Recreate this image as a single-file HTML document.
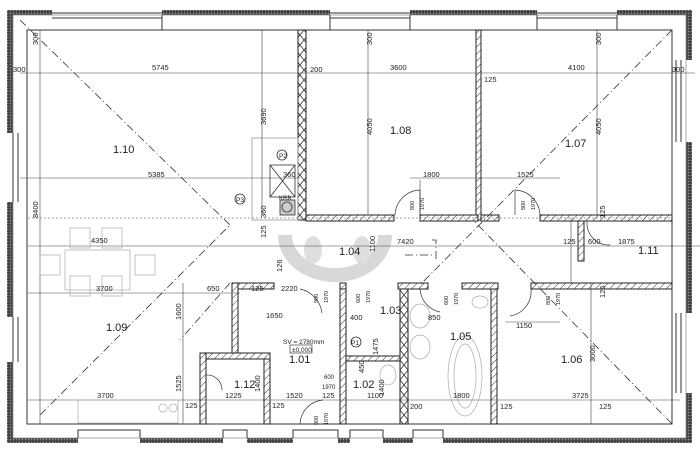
<!DOCTYPE html>
<html><head><meta charset="utf-8"><style>
html,body{margin:0;padding:0;background:#fff;}
svg{display:block;font-family:"Liberation Sans",sans-serif;}
</style></head><body>
<svg width="700" height="453" viewBox="0 0 700 453" xmlns="http://www.w3.org/2000/svg">
<defs>
<pattern id="h" width="5" height="5" patternUnits="userSpaceOnUse" patternTransform="rotate(45)"><rect width="5" height="5" fill="#fff"/><line x1="0" y1="0" x2="0" y2="5" stroke="#333" stroke-width="1"/></pattern>
<pattern id="d" width="3" height="3" patternUnits="userSpaceOnUse"><rect width="3" height="3" fill="#444"/><circle cx="1.5" cy="1.5" r="0.7" fill="#999"/></pattern>
<pattern id="x" width="8" height="10" patternUnits="userSpaceOnUse"><rect width="8" height="10" fill="#fff"/><path d="M0 0L8 10M8 0L0 10" stroke="#333" stroke-width="0.8"/></pattern>
</defs>
<rect width="700" height="453" fill="#fff"/>
<!-- watermark -->
<path d="M285 235 A50 40 0 0 0 385 235" fill="none" stroke="#d8d8d8" stroke-width="14"/>
<ellipse cx="313" cy="250" rx="9" ry="14" fill="#dedede"/>
<ellipse cx="362" cy="250" rx="9" ry="14" fill="#dedede"/>
<!-- outer walls bands -->
<g fill="url(#d)">
<rect x="10" y="10" width="42" height="5"/><rect x="162" y="10" width="168" height="5"/><rect x="410" y="10" width="127" height="5"/><rect x="617" y="10" width="75" height="5"/>
<rect x="7" y="10" width="6" height="123"/><rect x="7" y="202" width="6" height="115"/><rect x="7" y="362" width="6" height="81"/>
<rect x="686" y="10" width="6" height="50"/><rect x="686" y="142" width="6" height="171"/><rect x="686" y="393" width="6" height="50"/>
<rect x="10" y="438" width="68" height="5"/><rect x="140" y="438" width="83" height="5"/><rect x="247" y="438" width="46" height="5"/><rect x="338" y="438" width="12" height="5"/><rect x="383" y="438" width="30" height="5"/><rect x="443" y="438" width="249" height="5"/>
</g>
<g fill="none" stroke="#333" stroke-width="1">
<rect x="27" y="30" width="645" height="394"/>
<rect x="13" y="15" width="673" height="423" stroke="#888" stroke-width="0.7"/>
<!-- window frames -->
<path d="M52 13H162M52 18H162M330 13H410M330 18H410M537 13H617M537 18H617"/>
<path d="M13 133V202M18 133V202M13 317V362M18 317V362M681 60V142M676 60V142M681 313V393M676 313V393"/>
<path d="M78 438V430H140V438M223 438V430H247V438M293 438V430H338V438M350 438V430H383V438M413 438V430H443V438"/>
<path d="M162 15V30H330V15M410 15V30H537V15M617 15V30H672"/>
</g>
<!-- internal walls -->
<g stroke="#222" stroke-width="1">
<rect x="298" y="30" width="8" height="190" fill="url(#x)"/>
<rect x="476" y="30" width="5" height="190" fill="url(#h)"/>
<rect x="306" y="215" width="88" height="6" fill="url(#h)"/>
<rect x="420" y="215" width="58" height="6" fill="url(#h)"/>
<rect x="481" y="215" width="18" height="6" fill="url(#h)"/>
<rect x="540" y="215" width="132" height="6" fill="url(#h)"/>
<rect x="578" y="221" width="6" height="40" fill="url(#h)"/>
<rect x="232" y="283" width="42" height="6" fill="url(#h)"/>
<rect x="340" y="283" width="6" height="6" fill="url(#h)"/>
<rect x="398" y="283" width="30" height="6" fill="url(#h)"/>
<rect x="462" y="283" width="36" height="6" fill="url(#h)"/>
<rect x="531" y="283" width="141" height="6" fill="url(#h)"/>
<rect x="232" y="283" width="6" height="72" fill="url(#h)"/>
<rect x="200" y="353" width="70" height="6" fill="url(#h)"/>
<rect x="200" y="353" width="6" height="71" fill="url(#h)"/>
<rect x="264" y="359" width="6" height="65" fill="url(#h)"/>
<rect x="340" y="289" width="6" height="135" fill="url(#h)"/>
<rect x="400" y="289" width="8" height="135" fill="url(#x)"/>
<rect x="346" y="356" width="54" height="5" fill="url(#h)"/>
<rect x="491" y="289" width="6" height="135" fill="url(#h)"/>
</g>
<!-- chimney -->
<g fill="none" stroke="#333" stroke-width="0.8">
<rect x="270" y="165" width="25" height="32"/><path d="M270 165L295 197M295 165L270 197"/>
<rect x="280" y="200" width="15" height="15" fill="#ccc"/><circle cx="287" cy="207" r="5"/>
<circle cx="282" cy="155" r="5"/><circle cx="240" cy="199" r="5"/>
<rect x="252" y="138" width="46" height="82" stroke="#999"/>
<circle cx="356" cy="342" r="5"/>
</g>
<!-- dimension lines -->
<g stroke="#444" stroke-width="0.6" fill="none">
<path d="M20 73H695M20 178H300M28 246H700M28 293H240M28 400H230M200 400H400M400 400H500M500 400H680M410 178H560"/>
<path d="M262 30V215M368 30V215M597 30V215M40 30V424M183 283V424M591 283V424M420 180V222M571 218V283"/>
<path d="M28 218H672" stroke-dasharray="2 2"/>
<path d="M505 322H560"/>
</g>
<!-- diagonal dash-dot -->
<g stroke="#333" stroke-width="0.8" fill="none" stroke-dasharray="8 3 1 3">
<path d="M20 20L230 225M40 415L230 225"/>
<path d="M672 30L420 285M672 424L475 222"/>
<path d="M230 283L180 340M432 240H436V262M405 255H435"/>
</g>
<!-- doors -->
<g stroke="#333" stroke-width="0.7" fill="none">
<path d="M395 215A26 26 0 0 1 420 190V215"/>
<path d="M540 215A26 26 0 0 0 515 190V215"/>
<path d="M300 289A28 28 0 0 1 322 313"/>
<path d="M420 289A25 25 0 0 0 440 312"/>
<path d="M531 289A25 25 0 0 1 510 316"/>
<path d="M206 375A15 15 0 0 1 222 390"/>
<path d="M300 424A25 25 0 0 1 323 400"/>
<path d="M587 222A22 22 0 0 0 610 245"/>
</g>
<!-- furniture light -->
<g stroke="#aaa" stroke-width="0.7" fill="none">
<rect x="65" y="250" width="65" height="40"/>
<rect x="70" y="228" width="20" height="20"/><rect x="102" y="228" width="20" height="20"/>
<rect x="70" y="276" width="20" height="20"/><rect x="102" y="276" width="20" height="20"/>
<rect x="40" y="255" width="20" height="20"/><rect x="135" y="255" width="20" height="20"/>
<rect x="78" y="400" width="100" height="23"/><circle cx="163" cy="408" r="4"/><circle cx="173" cy="408" r="4"/>
<ellipse cx="420" cy="316" rx="10" ry="12"/><ellipse cx="420" cy="347" rx="10" ry="12"/>
<ellipse cx="465" cy="376" rx="17" ry="40"/><ellipse cx="465" cy="376" rx="11" ry="32"/>
<ellipse cx="480" cy="302" rx="8" ry="6"/><ellipse cx="388" cy="375" rx="8" ry="10"/>
</g>
<!-- labels -->
<g fill="#222" font-size="11">
<text x="113" y="153">1.10</text><text x="390" y="134">1.08</text><text x="565" y="147">1.07</text>
<text x="339" y="255">1.04</text><text x="638" y="254">1.11</text><text x="106" y="331">1.09</text>
<text x="561" y="363">1.06</text><text x="450" y="340">1.05</text><text x="289" y="363">1.01</text>
<text x="380" y="314">1.03</text><text x="353" y="388">1.02</text><text x="234" y="388">1.12</text>
</g>
<g fill="#222" font-size="7.5">
<text x="152" y="70">5745</text><text x="390" y="70">3600</text><text x="568" y="70">4100</text>
<text x="310" y="72">200</text><text x="484" y="82">125</text><text x="13" y="72">300</text><text x="672" y="72">300</text>
<text x="148" y="177">5385</text><text x="423" y="177">1800</text><text x="517" y="177">1525</text>
<text x="91" y="243">4350</text><text x="397" y="244">7420</text><text x="618" y="244">1875</text><text x="563" y="244">125</text><text x="588" y="244">600</text>
<text x="96" y="291">3700</text><text x="97" y="398">3700</text><text x="572" y="398">3725</text>
<text x="516" y="328">1150</text><text x="207" y="291">650</text><text x="251" y="291">125</text><text x="281" y="291">2220</text>
<text x="286" y="398">1520</text><text x="225" y="398">1225</text><text x="367" y="398">1100</text><text x="453" y="398">1800</text>
<text x="410" y="409">200</text><text x="500" y="409">125</text><text x="599" y="409">125</text><text x="185" y="408">125</text><text x="272" y="408">125</text><text x="322" y="398">125</text>
<text x="428" y="320">850</text><text x="350" y="320">400</text><text x="266" y="318">1650</text>
<text x="283" y="344" font-size="6.5">SV = 2780mm</text><rect x="290" y="345" width="22" height="8" fill="none" stroke="#222" stroke-width="0.6"/><text x="292" y="352" font-size="6.5">±0,000</text>
<text x="324" y="379" font-size="6">600</text><text x="322" y="389" font-size="6">1970</text>
<text x="279" y="158" font-size="6.5">P2</text><text x="236" y="202" font-size="6.5">P3</text><text x="351" y="345" font-size="6.5">P1</text><text x="279" y="200" font-size="6">KRB</text><text x="283" y="177">360</text>
</g>
<g fill="#222" font-size="7.5">
<text transform="translate(38,218) rotate(-90)">8400</text>
<text transform="translate(266,125) rotate(-90)">3690</text>
<text transform="translate(372,135) rotate(-90)">4050</text>
<text transform="translate(601,135) rotate(-90)">4050</text>
<text transform="translate(181,320) rotate(-90)">1600</text>
<text transform="translate(181,392) rotate(-90)">1525</text>
<text transform="translate(595,362) rotate(-90)">3000</text>
<text transform="translate(372,45) rotate(-90)">300</text>
<text transform="translate(601,45) rotate(-90)">300</text>
<text transform="translate(38,45) rotate(-90)">300</text>
<text transform="translate(375,252) rotate(-90)">1100</text>
<text transform="translate(266,218) rotate(-90)">360</text>
<text transform="translate(266,238) rotate(-90)">125</text>
<text transform="translate(260,392) rotate(-90)">1400</text>
<text transform="translate(605,218) rotate(-90)">125</text>
<text transform="translate(605,298) rotate(-90)">125</text>
<text transform="translate(282,272) rotate(-90)">126</text>
<text transform="translate(378,355) rotate(-90)">1475</text>
<text transform="translate(364,373) rotate(-90)">450</text>
<text transform="translate(384,396) rotate(-90)">1400</text>
</g>
<g fill="#222" font-size="5.5">
<text transform="translate(414,210) rotate(-90)">800</text><text transform="translate(424,210) rotate(-90)">1970</text>
<text transform="translate(525,210) rotate(-90)">800</text><text transform="translate(535,210) rotate(-90)">1970</text>
<text transform="translate(318,303) rotate(-90)">900</text><text transform="translate(328,303) rotate(-90)">1970</text>
<text transform="translate(448,305) rotate(-90)">600</text><text transform="translate(458,305) rotate(-90)">1970</text>
<text transform="translate(360,303) rotate(-90)">600</text><text transform="translate(370,303) rotate(-90)">1970</text>
<text transform="translate(550,305) rotate(-90)">800</text><text transform="translate(560,305) rotate(-90)">1970</text>
<text transform="translate(318,425) rotate(-90)">900</text><text transform="translate(328,425) rotate(-90)">1970</text>
</g>
</svg>
</body></html>
